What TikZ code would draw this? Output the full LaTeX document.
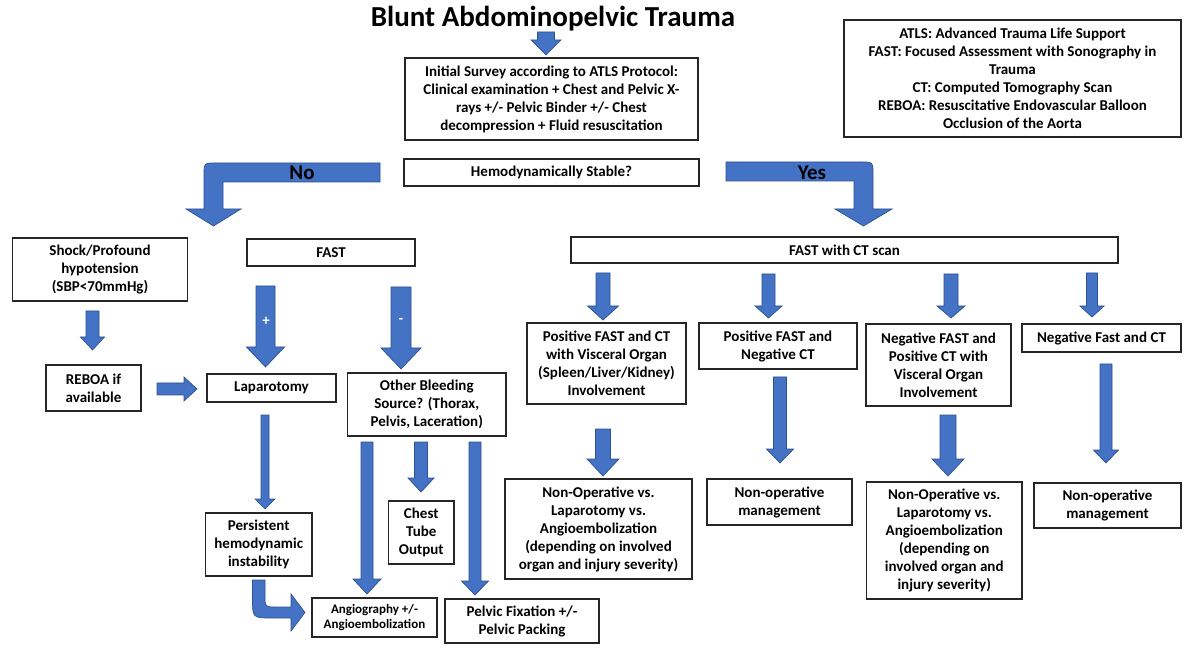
\documentclass[tikz,border=0pt]{standalone}
\usepackage{fontspec}
\setmainfont{Carlito}
\definecolor{ablue}{HTML}{4472C4}
\definecolor{ablueb}{HTML}{2F528F}
\tikzset{
  box/.style={draw=black!85, line width=1.3pt, fill=white, align=center, inner sep=0pt,
    font=\bfseries\fontsize{15}{18}\selectfont},
  smallbox/.style={box, font=\bfseries\fontsize{13}{15}\selectfont},
  blk/.style={fill=ablue, draw=ablueb, line width=0.7pt, line join=miter},
  lbl/.style={font=\bfseries\fontsize{21}{24}\selectfont, inner sep=0pt},
  sign/.style={font=\bfseries\fontsize{15}{18}\selectfont, text=white, inner sep=0pt},
}
% box by corners: name, x1, y1, x2, y2, text, extra style
\newcommand{\bx}[7][box]{\node[#1, minimum width={(#4-#2)*1pt}, minimum height={(#6-#3)*1pt}] (#2n) at ({(#3+#5)/2},{(#4+#6)/2}) {#7};}
% down block arrow: x, ytop, ytip, shaft half width, head half width, head length
\newcommand{\darr}[6]{\path[blk] (#1-#4,#2) -- (#1+#4,#2) -- (#1+#4,#3-#6) -- (#1+#5,#3-#6) -- (#1,#3) -- (#1-#5,#3-#6) -- (#1-#4,#3-#6) -- cycle;}
% right block arrow: y, xstart, xtip, shaft half width, head half width, head length
\newcommand{\rarr}[6]{\path[blk] (#2,#1-#4) -- (#3-#6,#1-#4) -- (#3-#6,#1-#5) -- (#3,#1) -- (#3-#6,#1+#5) -- (#3-#6,#1+#4) -- (#2,#1+#4) -- cycle;}
\newcommand{\mybox}[7][box]{\node[#1, minimum width={(#4-#2)*1pt}, minimum height={(#5-#3)*1pt}] (#6) at ({(#2+#4)/2},{(#3+#5)/2}) {#7};}
\begin{document}
\begin{tikzpicture}[x=1pt,y=-1pt]
\useasboundingbox[fill=white] (0,0) rectangle (1192,652);

% title
\node[font=\bfseries\fontsize{29}{32}\selectfont, inner sep=0pt, anchor=base] (title) at (553,27) {Blunt Abdominopelvic Trauma};
\darr{546}{32}{55}{8.5}{15}{15}

% top boxes
\mybox{405}{58}{698}{140}{init}{Initial Survey according to ATLS Protocol:\\Clinical examination + Chest and Pelvic X-\\rays +/- Pelvic Binder +/- Chest\\decompression + Fluid resuscitation}
\mybox{844}{20}{1181}{137}{legend}{ATLS: Advanced Trauma Life Support\\FAST: Focused Assessment with Sonography in\\Trauma\\CT: Computed Tomography Scan\\REBOA: Resuscitative Endovascular Balloon\\Occlusion of the Aorta}
\mybox{404}{159}{699}{186}{hemo}{Hemodynamically Stable?}

% No bent arrow
\path[blk] (380,163) -- (215,163) .. controls (204,163) .. (204,174) -- (204,209) -- (186,209) -- (213.5,226) -- (241,209) -- (223,209) -- (223,182) -- (380,182) -- cycle;
\node[lbl] (no) at (302,173) {No};
% Yes bent arrow
\path[blk] (726,162) -- (862,162) .. controls (873,162) .. (873,173) -- (873,209) -- (892,209) -- (863.5,226) -- (835,209) -- (854,209) -- (854,181) -- (726,181) -- cycle;
\node[lbl] (yes) at (812,173) {Yes};

% left branch
\mybox{12.5}{238}{187.5}{301}{shock}{Shock/Profound\\hypotension\\(SBP<70mmHg)}
\mybox{247}{239}{415}{266}{fast}{FAST}
\darr{92.5}{311}{350}{6.5}{12}{13}
\mybox{46}{365}{141}{411}{reboa}{REBOA if\\available}
\rarr{389}{157}{197}{6}{12}{13}
\mybox{207}{374}{336}{402}{lap}{Laparotomy}
\darr{265.5}{286}{367}{9.5}{19}{20}
\node[sign] (plus) at (266,321) {+};
\darr{401}{287}{369}{10}{20}{21}
\node[sign] (minus) at (401,321) {-};
\mybox{347.5}{373}{506}{436}{other}{Other Bleeding\\Source? (Thorax,\\Pelvis, Laceration)}
\darr{265}{415}{509}{4}{10}{10}
\mybox{205.5}{513}{312}{576}{persist}{Persistent\\hemodynamic\\instability}
\darr{367}{442}{594}{6}{14}{15}
\darr{421}{442}{492}{6.5}{13}{14}
\darr{475}{442}{595}{6}{13.5}{14}
\mybox{388.5}{501}{454}{564}{chest}{Chest\\Tube\\Output}
\mybox[smallbox]{312}{598}{437}{637}{angio}{Angiography +/-\\Angioembolization}
\mybox{445}{599}{599}{643}{pelvic}{Pelvic Fixation +/-\\Pelvic Packing}
% curved arrow persistent -> angio
\path[blk] (252.5,580) -- (252.5,598) .. controls (252.5,618) .. (272,618) -- (291,618) -- (291,631) -- (305,612.5) -- (291,594) -- (291,607) -- (276,607) .. controls (265,607) .. (265,596) -- (265,580) -- cycle;

% right branch
\mybox{571}{237}{1118}{263}{fastct}{FAST with CT scan}
\darr{603}{273}{320}{7}{15.5}{14}
\darr{768.5}{274}{318}{6.5}{13.5}{12}
\darr{951}{274}{318}{7}{14}{12}
\darr{1092}{273}{317}{5.5}{12}{11}
\mybox{527}{323}{686}{404}{pf}{Positive FAST and CT\\with Visceral Organ\\(Spleen/Liver/Kidney)\\Involvement}
\mybox{699}{323}{857}{369}{pn}{Positive FAST and\\Negative CT}
\mybox{866}{324}{1011}{406}{np}{Negative FAST and\\Positive CT with\\Visceral Organ\\Involvement}
\mybox{1022}{324}{1181}{352}{nn}{Negative Fast and CT}
\darr{603}{429}{476}{7.5}{16}{17}
\darr{780}{377}{463}{6.5}{13.5}{14}
\darr{948}{415}{476}{8}{16}{17}
\darr{1106}{364}{463}{6}{12.5}{13}
\mybox{505}{479}{692}{579}{nonA}{Non-Operative vs.\\Laparotomy vs.\\Angioembolization\\(depending on involved\\organ and injury severity)}
\mybox{707}{479}{852}{525}{nonB}{Non-operative\\management}
\mybox{866.5}{482}{1022}{599}{nonC}{Non-Operative vs.\\Laparotomy vs.\\Angioembolization\\(depending on\\involved organ and\\injury severity)}
\mybox{1034}{483}{1181}{528}{nonD}{Non-operative\\management}
\end{tikzpicture}
\end{document}
